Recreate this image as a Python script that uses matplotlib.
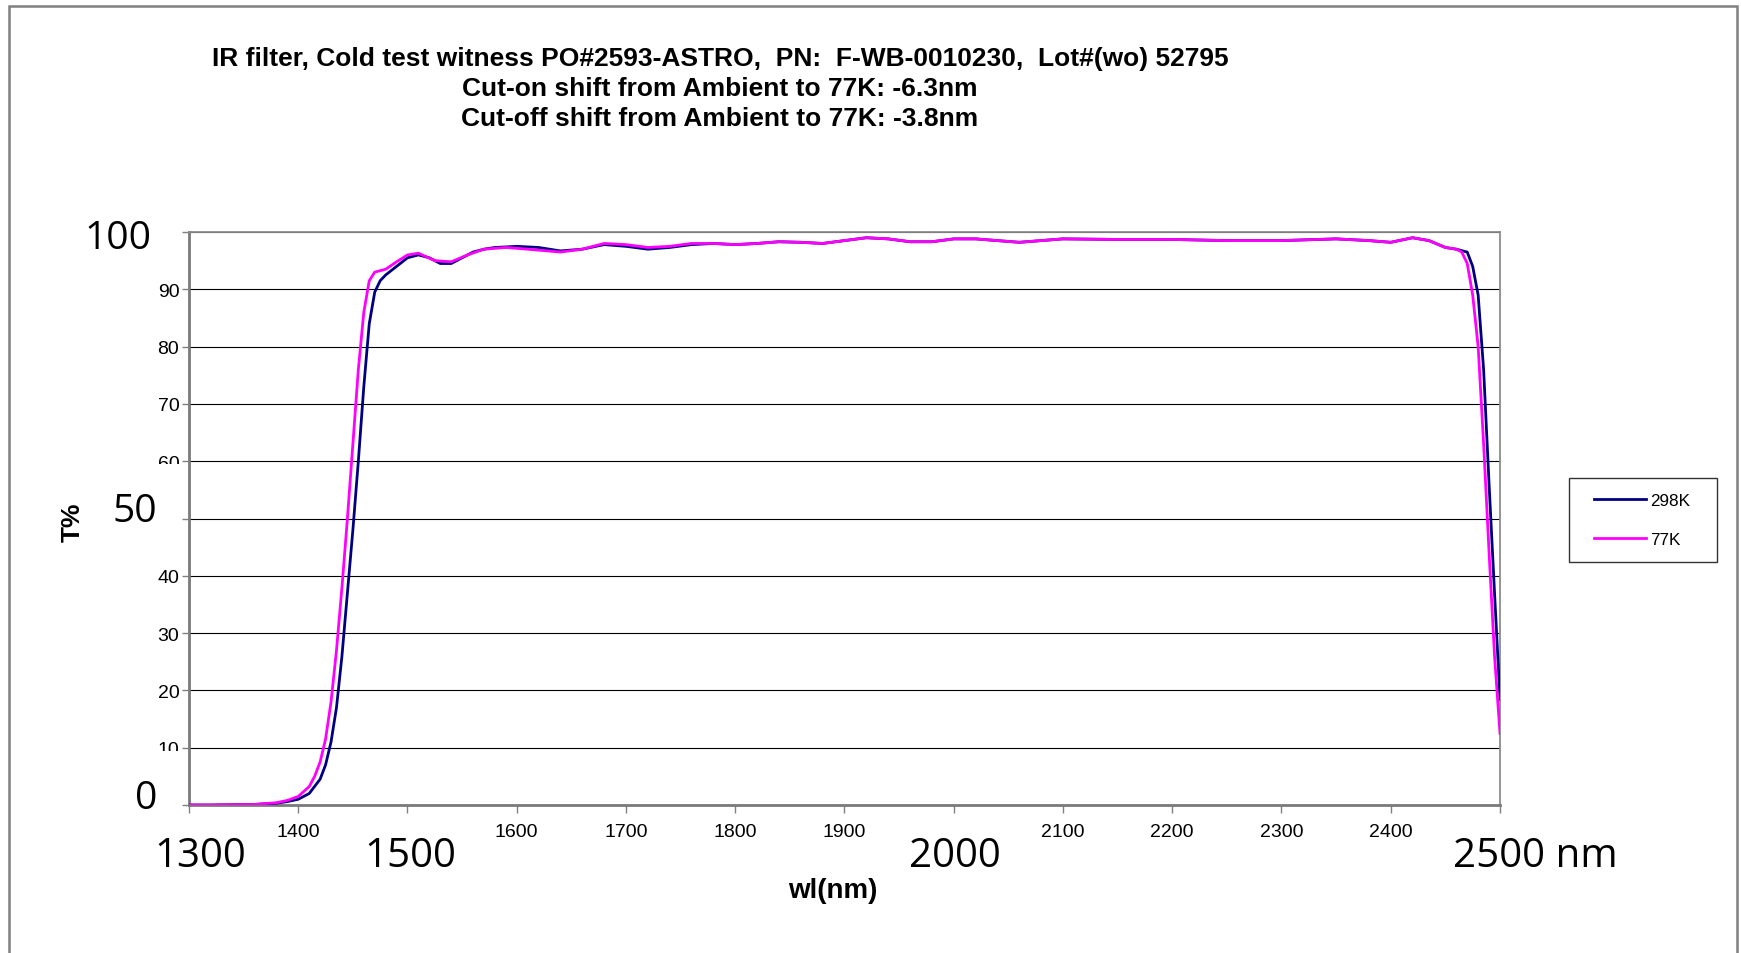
#!/usr/bin/env python
# -*- coding:utf-8 -*-
# IR filter cold test: transmission vs wavelength, 298K vs 77K
import matplotlib
matplotlib.use('Agg')
import matplotlib.pyplot as plt
from matplotlib.patches import Rectangle
from matplotlib.transforms import Bbox
from matplotlib.legend_handler import HandlerLine2D

# ---- data ----
wl_298 = [1300, 1320, 1340, 1360, 1380, 1390, 1400, 1410, 1420, 1425, 1430, 1435,
          1440, 1445, 1450, 1455, 1460, 1465, 1470, 1475, 1480, 1490, 1500, 1510,
          1520, 1530, 1540, 1550, 1560, 1570, 1580, 1600, 1620, 1640, 1660, 1680,
          1700, 1720, 1740, 1760, 1780, 1800, 1820, 1840, 1860, 1880, 1900, 1920,
          1940, 1960, 1980, 2000, 2020, 2040, 2060, 2080, 2100, 2150, 2200, 2250,
          2300, 2350, 2380, 2400, 2420, 2435, 2450, 2460, 2470, 2475, 2480, 2485,
          2490, 2495, 2500]
t_298 = [0.0, 0.0, 0.05, 0.1, 0.3, 0.6, 1.0, 2.0, 4.5, 7.0, 11.0, 17.0,
         26.0, 37.0, 48.0, 60.0, 73.0, 84.0, 89.5, 91.5, 92.5, 94.0, 95.5, 96.0,
         95.5, 94.5, 94.5, 95.5, 96.5, 97.0, 97.3, 97.5, 97.3, 96.7, 97.0, 97.8,
         97.5, 97.0, 97.3, 97.8, 98.0, 97.8, 98.0, 98.3, 98.2, 98.0, 98.5, 99.0,
         98.8, 98.3, 98.3, 98.8, 98.8, 98.5, 98.2, 98.5, 98.8, 98.7, 98.7, 98.5,
         98.5, 98.8, 98.5, 98.2, 99.0, 98.5, 97.3, 97.0, 96.5, 94.0, 89.0, 76.0,
         56.0, 37.0, 18.5]

wl_77 = [1300, 1320, 1340, 1360, 1380, 1390, 1400, 1410, 1415, 1420, 1425, 1430,
         1435, 1440, 1445, 1450, 1455, 1460, 1465, 1470, 1480, 1490, 1500, 1510,
         1525, 1540, 1555, 1570, 1590, 1610, 1640, 1660, 1680, 1700, 1720, 1740,
         1760, 1780, 1800, 1820, 1840, 1860, 1880, 1900, 1920, 1940, 1960, 1980,
         2000, 2020, 2040, 2060, 2080, 2100, 2150, 2200, 2250, 2300, 2350, 2380,
         2400, 2420, 2435, 2450, 2460, 2465, 2470, 2475, 2480, 2485, 2490, 2495,
         2500]
t_77 = [0.0, 0.0, 0.05, 0.1, 0.4, 0.8, 1.5, 3.2, 5.0, 7.5, 11.5, 18.0,
        27.0, 38.0, 50.0, 63.0, 76.0, 86.0, 91.5, 93.0, 93.5, 94.8, 96.0, 96.3,
        95.0, 94.8, 96.0, 97.0, 97.3, 97.0, 96.5, 97.0, 98.0, 97.8, 97.3, 97.5,
        98.0, 98.0, 97.8, 98.0, 98.3, 98.2, 98.0, 98.5, 99.0, 98.8, 98.3, 98.3,
        98.8, 98.8, 98.5, 98.2, 98.5, 98.8, 98.7, 98.7, 98.5, 98.5, 98.8, 98.5,
        98.2, 99.0, 98.5, 97.3, 97.0, 96.5, 94.5, 89.0, 80.0, 63.0, 44.0, 26.0,
        12.5]

labels = ['298K', '77K']
colors = ['#000080', '#FF00FF']
title_lines = ['IR filter, Cold test witness PO#2593-ASTRO,  PN:  F-WB-0010230,  Lot#(wo) 52795',
               'Cut-on shift from Ambient to 77K: -6.3nm',
               'Cut-off shift from Ambient to 77K: -3.8nm']
xticks = list(range(1300, 2600, 100))
big_x = {1300: '1300', 1500: '1500', 2000: '2000', 2500: '2500 nm'}
yticks = list(range(0, 110, 10))
big_y = {0: '0', 50: '50', 100: '100'}

W, H = 1741, 954
plt.rcParams['font.family'] = ['Liberation Sans', 'DejaVu Sans']
fig = plt.figure(figsize=(W / 100, H / 100), dpi=100)
ax = fig.add_axes([189 / W, 1 - 806 / H, 1311 / W, 573 / H])

ax.plot(wl_298, t_298, color=colors[0], lw=2.0, label=labels[0], zorder=3)
ax.plot(wl_77, t_77, color=colors[1], lw=2.0, label=labels[1], zorder=4)

ax.set_xlim(1300, 2500)
ax.set_ylim(0, 100)
ax.set_xticks(xticks)
ax.set_xticklabels(['' if v in big_x else str(v) for v in xticks], fontsize=14)
ax.set_yticks(yticks)
ax.set_yticklabels(['' if v in big_y else str(v) for v in yticks], fontsize=14)
ax.tick_params(axis='x', direction='out', length=6, width=1, color='#808080', pad=7)
ax.tick_params(axis='y', direction='out', length=5, width=1, color='#808080', pad=2)
ax.yaxis.grid(True, color='black', lw=0.8)
ax.set_axisbelow(True)
for s in ['left', 'bottom']:
    ax.spines[s].set_color('#7a7a7a')
    ax.spines[s].set_linewidth(2)
for s in ['top', 'right']:
    ax.spines[s].set_color('#8c8c8c')
    ax.spines[s].set_linewidth(1.3)

# big overlaid labels
big_font = ['Open Sans', 'DejaVu Sans']
xt = ax.get_xaxis_transform()
yb = -0.089
ax.text(1310, yb, big_x[1300], transform=xt, ha='center', va='center', fontsize=29, family=big_font)
ax.text(1503, yb, big_x[1500], transform=xt, ha='center', va='center', fontsize=29, family=big_font)
ax.text(2001, yb, big_x[2000], transform=xt, ha='center', va='center', fontsize=29, family=big_font)
ax.text(2457, yb, big_x[2500], transform=xt, ha='left', va='center', fontsize=29, family=big_font)
yt = ax.get_yaxis_transform()
ax.text(-0.029, 99.0, big_y[100], transform=yt, ha='right', va='center', fontsize=28, family=big_font)
ax.text(-0.0244, 51.3, big_y[50], transform=yt, ha='right', va='center', fontsize=28, family=big_font)
ax.text(-0.0244, 1.15, big_y[0], transform=yt, ha='right', va='center', fontsize=28, family=big_font)

# the 60 and 10 labels are cut off just below their gridline
for tk in ax.yaxis.get_major_ticks():
    v = tk.get_loc()
    if v in (10, 60):
        ypix = 806 - v * 5.73
        tk.label1.set_clip_on(True)
        tk.label1.set_clip_box(Bbox([[0, H - ypix - 3], [189, H]]))

fig.text(73 / W, 1 - 522 / H, 'T%', rotation=90, ha='center', va='center', fontsize=19, fontweight='bold')
fig.text(833 / W, 1 - 891 / H, 'wl(nm)', ha='center', va='center', fontsize=20, fontweight='bold')

for i, line in enumerate(title_lines):
    fig.text(720 / W, 1 - (59 + 30 * i) / H, line, ha='center', va='center', fontsize=19, fontweight='bold')

leg = fig.legend(loc='center left', bbox_to_anchor=(1569 / W, 1 - 562 / H, 148 / W, 82 / H),
                 mode='expand', fontsize=12.3, frameon=True, fancybox=False,
                 handlelength=3.6, labelspacing=1.4, borderpad=0.9, handletextpad=0.25,
                 borderaxespad=0, handler_map={plt.Line2D: HandlerLine2D(xpad=0.55)})
leg.get_frame().set_edgecolor('black')
leg.get_frame().set_linewidth(1)

# outer chart border
fig.add_artist(Rectangle((9 / W, -0.05), 1728 / W, 1.05 - 7 / H, transform=fig.transFigure,
                         fill=False, edgecolor='#808080', lw=1.8))

plt.savefig('out.png', dpi=100)
